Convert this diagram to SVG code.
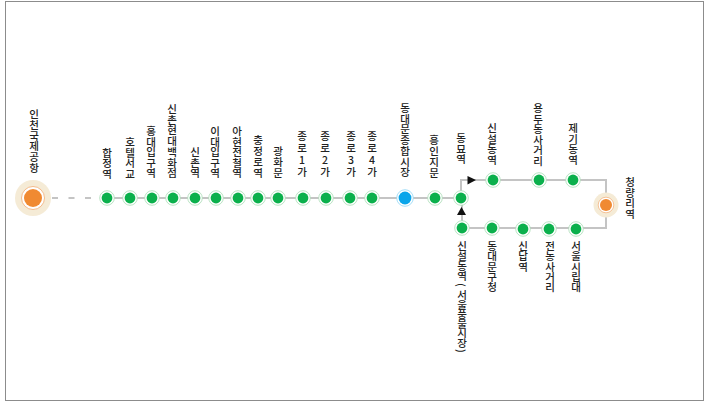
<svg xmlns="http://www.w3.org/2000/svg" width="708" height="405" viewBox="0 0 708 405">
<style>
.l{fill:none;stroke:#c4c4c4;stroke-width:2}
.h{fill:#fff;stroke:#a9dcb5;stroke-width:.8}
.g{fill:#0bb04c}
text{font-family:"Noto Sans CJK KR","Noto Sans",sans-serif;font-size:10.5px;font-weight:500;fill:#222;text-anchor:middle}
</style>
<defs>
<g id="st"><circle class="h" r="7.3"/><circle class="g" r="5.4"/></g>
</defs>
<rect x="5.5" y="1.5" width="698" height="399" fill="#fff" stroke="#8c8c8c"/>
<g id="connectors">
<path class="l" d="M52 198H100" stroke-dasharray="6 10.5"/>
<path class="l" d="M100 198H461V180H606V228H462V198"/>
<path d="M457 215L461.500 207L466 215Z" fill="#111"/>
<path d="M467.500 176L476 180L467.500 184.500Z" fill="#111"/>
</g>
<g id="n0"><circle cx="33" cy="198" r="18" fill="#f5ebd6"/><circle cx="33" cy="198" r="11.5" fill="#fff" stroke="#f0a060" stroke-width=".7"/><circle cx="33" cy="198" r="9" fill="#f08a32"/><text x="34 34 34 34 34 34" y="118 128.8 139.6 150.4 161.2 172">인천국제공항</text></g>
<g id="n1"><use href="#st" x="107" y="198"/><text x="107 107 107" y="157 167.3 177.6">합정역</text></g>
<g id="n2"><use href="#st" x="130" y="198"/><text x="130 130 130 130" y="146 156.5 167 177.5">호텔서교</text></g>
<g id="n3"><use href="#st" x="152" y="198"/><text x="151 151 151 151 151" y="135 145.5 156 166.5 177">홍대입구역</text></g>
<g id="n4"><use href="#st" x="173" y="198"/><text x="172 172 172 172 172 172 172" y="113 123.7 134.4 145.1 155.8 166.5 177.2">신촌현대백화점</text></g>
<g id="n5"><use href="#st" x="195" y="198"/><text x="195 195 195" y="156 166.5 177">신촌역</text></g>
<g id="n6"><use href="#st" x="216" y="198"/><text x="215 215 215 215 215" y="135 145.5 156 166.5 177">이대입구역</text></g>
<g id="n7"><use href="#st" x="238" y="198"/><text x="237 237 237 237 237" y="135 145.5 156 166.5 177">아현전철역</text></g>
<g id="n8"><use href="#st" x="258" y="198"/><text x="258 258 258 258" y="144 155 166 177">충정로역</text></g>
<g id="n9"><use href="#st" x="278" y="198"/><text x="278 278 278" y="155 166 177">광화문</text></g>
<g id="n10"><use href="#st" x="303" y="198"/><text x="302 302 302 302" y="140 152 164 176">종로1가</text></g>
<g id="n11"><use href="#st" x="326" y="198"/><text x="325 325 325 325" y="140 152 164 176">종로2가</text></g>
<g id="n12"><use href="#st" x="350" y="198"/><text x="351 351 351 351" y="140 152 164 176">종로3가</text></g>
<g id="n13"><use href="#st" x="372" y="198"/><text x="372 372 372 372" y="140 152 164 176">종로4가</text></g>
<g id="n14"><circle cx="405" cy="198" r="8.3" fill="#fff" stroke="#8fd6f5" stroke-width=".8"/><circle cx="405" cy="198" r="6.4" fill="#0aa5ea"/><text x="405 405 405 405 405 405 405" y="112 122.7 133.4 144.1 154.8 165.5 176.2">동대문종합시장</text></g>
<g id="n15"><use href="#st" x="435" y="198"/><text x="434 434 434 434" y="144 155 166 177">흥인지문</text></g>
<g id="n16"><use href="#st" x="461" y="198"/><text x="461 461 461" y="142 152.5 163">동묘역</text></g>
<g id="n17"><use href="#st" x="493" y="180"/><text x="492 492 492 492" y="132 142.5 153 163.5">신설동역</text></g>
<g id="n18"><use href="#st" x="539" y="180"/><text x="538 538 538 538 538 538" y="112 122.5 133 143.5 154 164.5">용두동사거리</text></g>
<g id="n19"><use href="#st" x="573" y="180"/><text x="573 573 573 573" y="132 142.5 153 163.5">제기동역</text></g>
<g id="n20"><circle cx="606" cy="205" r="12.5" fill="#f5ebd6"/><circle cx="606" cy="205" r="7.8" fill="#fff" stroke="#f0a060" stroke-width=".6"/><circle cx="606" cy="205" r="6" fill="#f08a32"/><text x="630 630 630 630" y="186 196.5 207 217.5">청량리역</text></g>
<g id="n21"><use href="#st" x="462" y="228"/><text x="462 462 462 462 459 462 462 462 462 462 462 459" y="250 260 270 280 283 299 308.5 318 327.5 337 346.5 349" rotate="0 0 0 0 90 0 0 0 0 0 0 90">신설동역(서울풍물시장)</text></g>
<g id="n22"><use href="#st" x="492" y="228"/><text x="492 492 492 492 492" y="250 260.3 270.6 280.9 291.2">동대문구청</text></g>
<g id="n23"><use href="#st" x="523" y="229"/><text x="523 523 523" y="250 260.3 270.6">신답역</text></g>
<g id="n24"><use href="#st" x="549" y="229"/><text x="550 550 550 550 550" y="250 260.3 270.6 280.9 291.2">전농사거리</text></g>
<g id="n25"><use href="#st" x="576" y="229"/><text x="576 576 576 576 576" y="250 260.3 270.6 280.9 291.2">서울시립대</text></g>
</svg>
